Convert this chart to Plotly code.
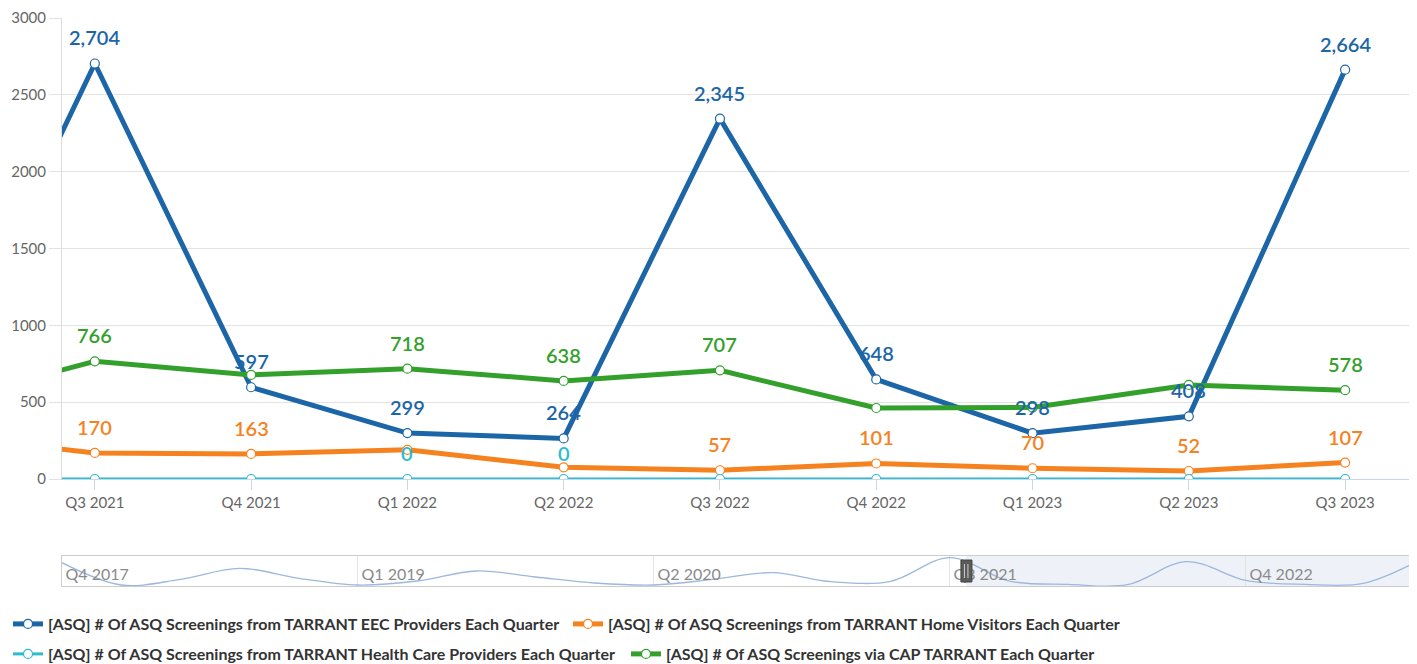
import plotly.graph_objects as go

# quarters covered by the navigator (full history); main chart shows the last part
quarters = ["Q4 2017", "Q1 2018", "Q2 2018", "Q3 2018", "Q4 2018", "Q1 2019", "Q2 2019", "Q3 2019",
            "Q4 2019", "Q1 2020", "Q2 2020", "Q3 2020", "Q4 2020", "Q1 2021", "Q2 2021", "Q3 2021",
            "Q4 2021", "Q1 2022", "Q2 2022", "Q3 2022", "Q4 2022", "Q1 2023", "Q2 2023", "Q3 2023"]

# EEC providers, full history (also drawn in the navigator)
eec = [2250, 240, 750, 1740, 840, 240, 600, 1500, 960, 420, 240, 750, 1350, 540, 575,
       2704, 597, 299, 264, 2345, 648, 298, 408, 2664]

# the other series, Q2 2021 .. Q3 2023
recent = ["Q2 2021", "Q3 2021", "Q4 2021", "Q1 2022", "Q2 2022", "Q3 2022",
          "Q4 2022", "Q1 2023", "Q2 2023", "Q3 2023"]
home_visitors = [280, 170, 163, 190, 76, 57, 101, 70, 52, 107]
health_care = [0, 0, 0, 0, 0, 0, 0, 0, 0, 0]
cap = [495, 766, 677, 718, 638, 707, 462, 465, 612, 578]

# which data labels are visible (the chart hides overlapping ones)
eec_show = [False, True, True, True, True, True, True, True, True, True]
home_show = [False, True, True, False, False, True, True, True, True, True]
health_show = [False, False, False, True, True, False, False, False, False, False]
cap_show = [False, True, False, True, True, True, False, False, False, True]

names = [
    "[ASQ] # Of ASQ Screenings from TARRANT EEC Providers Each Quarter",
    "[ASQ] # Of ASQ Screenings from TARRANT Home Visitors Each Quarter",
    "[ASQ] # Of ASQ Screenings from TARRANT Health Care Providers Each Quarter",
    "[ASQ] # Of ASQ Screenings via CAP TARRANT Each Quarter",
]
colors = ["#1c66a7", "#f6821f", "#2bbccd", "#33a02c"]

# page body has an 8px margin, so the figure is 8px smaller than the window
OFF = 8
W, H = 1417 - OFF, 664 - OFF
FONT = "Lato, 'Open Sans', sans-serif"

eec_recent = eec[quarters.index("Q2 2021"):]
series = [
    (eec_recent, eec_show, 5, "legend", 515),
    (home_visitors, home_show, 5, "legend", 515),
    (health_care, health_show, 3, "legend2", 573),
    (cap, cap_show, 5, "legend2", 573),
]

fig = go.Figure()
annotations = []
for (vals, show, lw, leg, legw), name, col in zip(series, names, colors):
    fig.add_trace(go.Scatter(
        x=recent, y=vals, name=name, mode="lines+markers",
        line=dict(color=col, width=lw),
        marker=dict(size=9, color="white", line=dict(color=col, width=1.2)),
        legend=leg, legendwidth=legw, hoverinfo="x+y",
    ))
    for q, v, s in zip(recent, vals, show):
        if s:
            annotations.append(dict(
                x=q, y=v, xref="x", yref="y", text=f"{v:,}", showarrow=False,
                yshift=26, font=dict(family=FONT, size=20, color=col, weight=600),
            ))

# navigator
fig.add_trace(go.Scatter(
    x=quarters, y=eec, xaxis="x2", yaxis="y2", mode="lines",
    line=dict(color="#9cb8dc", width=1.3, shape="spline", smoothing=1.0),
    showlegend=False, hoverinfo="skip",
))

nav_left = 15.27
nav_right = 22.89
shapes = [
    dict(type="rect", xref="x2", yref="y2 domain", x0=nav_left, x1=nav_right, y0=0, y1=1,
         fillcolor="rgba(102,133,194,0.11)", line=dict(width=0), layer="below"),
    dict(type="rect", xref="x2", yref="y2 domain", xsizemode="pixel", ysizemode="pixel",
         xanchor=nav_left, yanchor=0.5, x0=-5, x1=6, y0=-11, y1=11,
         fillcolor="#5a5a5a", line=dict(color="#444", width=1)),
    dict(type="line", xref="x2", yref="y2 domain", xsizemode="pixel", ysizemode="pixel",
         xanchor=nav_left, yanchor=0.5, x0=-1.5, x1=-1.5, y0=-7, y1=7,
         line=dict(color="#cfcfcf", width=1)),
    dict(type="line", xref="x2", yref="y2 domain", xsizemode="pixel", ysizemode="pixel",
         xanchor=nav_left, yanchor=0.5, x0=2, x1=2, y0=-7, y1=7,
         line=dict(color="#cfcfcf", width=1)),
]

top, bottom = 18 - OFF, 0
ph = H - top - bottom
def frac(py):
    # py is a window pixel row
    return (H - bottom - (py - OFF)) / ph

fig.update_layout(
    width=W, height=H,
    margin=dict(l=62 - OFF, r=0, t=top, b=bottom, autoexpand=False),
    plot_bgcolor="white", paper_bgcolor="white",
    font=dict(family=FONT, color="#666"),
    annotations=annotations, shapes=shapes,
    xaxis=dict(
        type="category", categoryorder="array", categoryarray=quarters,
        range=[14.79, 23.46], domain=[0, 1], anchor="y", automargin=False,
        showgrid=False, showline=True, linecolor="#ccd6eb", linewidth=1,
        ticks="outside", ticklen=10, tickcolor="#ccd6eb",
        tickfont=dict(family=FONT, size=15, color="#666"),
    ),
    yaxis=dict(
        range=[0, 3000], dtick=500, tickformat="d", domain=[frac(479), 1], automargin=False,
        showgrid=True, gridcolor="#e3e3e3", gridwidth=1, zeroline=False,
        showline=True, linecolor="#dcdcdc", ticks="outside", ticklen=12, tickcolor="#e3e3e3",
        tickfont=dict(family=FONT, size=15, color="#666"),
    ),
    xaxis2=dict(
        type="category", categoryorder="array", categoryarray=quarters,
        range=[0, nav_right], domain=[0, 1], anchor="y2", automargin=False,
        tickmode="array", tickvals=quarters[::5],
        showgrid=True, gridcolor="#e3e3e3", ticks="",
        ticklabelposition="inside right", ticklabelshift=3,
        showline=True, mirror=True, linecolor="#cccccc",
        tickfont=dict(family=FONT, size=16, color="#8a8a8a"),
    ),
    yaxis2=dict(
        range=[150, 2850], domain=[frac(586), frac(556)], anchor="x2", automargin=False,
        showgrid=False, showticklabels=False, zeroline=False,
        showline=True, linecolor="#cccccc",
    ),
    legend=dict(
        orientation="h", xref="container", yref="container",
        x=0, y=1 - (624 - OFF) / H, xanchor="left", yanchor="middle",
        font=dict(family=FONT, size=16, color="#333", weight="bold"),
        bgcolor="rgba(0,0,0,0)",
    ),
    legend2=dict(
        orientation="h", xref="container", yref="container",
        x=0, y=1 - (654 - OFF) / H, xanchor="left", yanchor="middle",
        font=dict(family=FONT, size=16, color="#333", weight="bold"),
        bgcolor="rgba(0,0,0,0)",
    ),
    hovermode="closest",
)

fig.write_html("out.html")
